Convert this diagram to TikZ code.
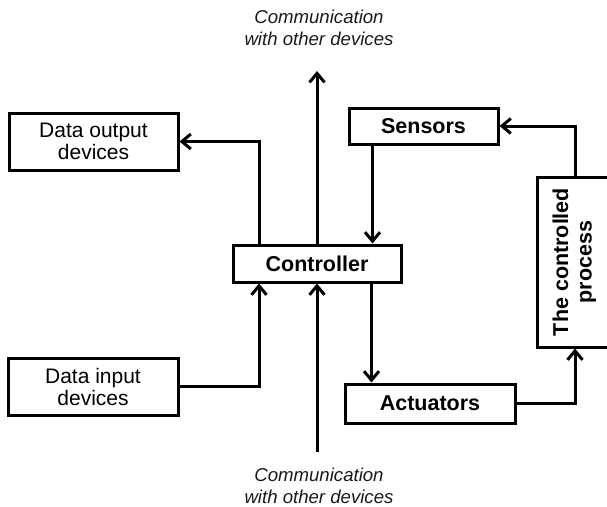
\documentclass[tikz,border=0pt]{standalone}
\usepackage{fontspec}
\setmainfont{Liberation Sans}
\usetikzlibrary{arrows.meta}
\tikzset{
  box/.style={draw=black, line width=3pt, fill=white, inner sep=0pt, align=center},
  boldtxt/.style={font=\fontsize{21.5}{24}\selectfont\bfseries},
  normtxt/.style={font=\fontsize{21}{22}\selectfont},
  commtxt/.style={font=\fontsize{18.6}{22}\selectfont\itshape, align=center, text=black!90, inner sep=0pt},
  arr/.style={line width=3pt, -{Straight Barb[length=9pt,width=15pt]}},
  ln/.style={line width=3pt}
}
\begin{document}
\begin{tikzpicture}[x=1pt,y=-1pt]
\useasboundingbox (0,0) rectangle (607,506);
\begin{scope}
\clip (0,0) rectangle (607,506);
\node[box, normtxt, minimum width=169pt, minimum height=57pt] (dout) at (93.5,141.5) {Data output\\devices};
\node[box, normtxt, minimum width=170pt, minimum height=57pt] (din) at (93,386.5) {Data input\\devices};
\node[box, boldtxt, minimum width=168pt, minimum height=37pt] (ctrl) at (317,263.5) {Controller};
\node[box, boldtxt, minimum width=149pt, minimum height=36pt] (sens) at (423.5,126) {Sensors};
\node[box, boldtxt, minimum width=170pt, minimum height=39pt] (act) at (430,403.5) {Actuators};
\node[box, boldtxt, minimum width=76pt, minimum height=170pt] (proc) at (575,262)
  {\rotatebox{90}{\begin{tabular}{@{}c@{}}The controlled\\[-0.5pt]process\end{tabular}}};
\end{scope}

\node[commtxt] (topt) at (319,28) {Communication\\with other devices};
\node[commtxt] (bott) at (319,486) {Communication\\with other devices};
\coordinate (topc) at (317,71);
\coordinate (botc) at (317,452);

\draw[arr] ([xshift=-58pt]ctrl.north) |- (dout.east);
\draw[arr] (ctrl.north) -- (topc);
\draw[arr] ([xshift=25pt]sens.south west) -- ([xshift=25pt]sens.south west |- ctrl.north);
\draw[arr] ([xshift=28pt]act.north west |- ctrl.south) -- ([xshift=28pt]act.north west);
\draw[arr] (act.east) -| (proc.south);
\draw[arr] (proc.north) |- (sens.east);
\draw[arr] (din.east) -| ([xshift=-58pt]ctrl.south);
\draw[arr] (botc) -- (ctrl.south);
\end{tikzpicture}
\end{document}
